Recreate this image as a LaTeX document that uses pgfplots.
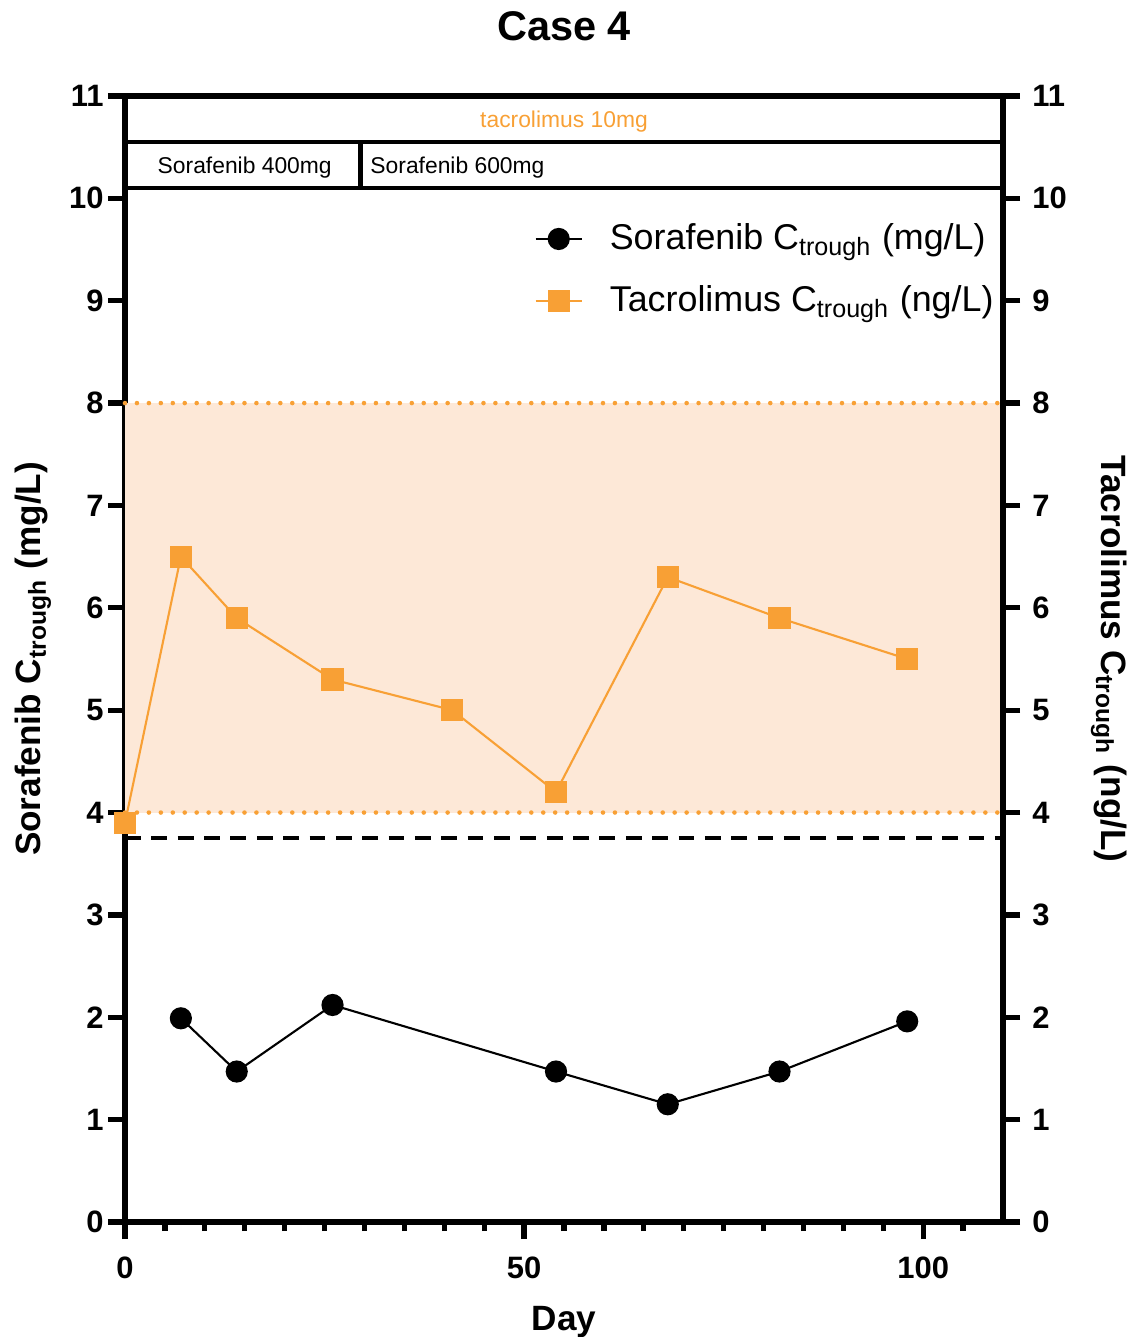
\documentclass[border=0pt]{standalone}
\usepackage{fontspec}
\setmainfont{Liberation Sans}
\usepackage{pgfplots}
\pgfplotsset{compat=1.18}
\definecolor{tacor}{HTML}{F8A035}
\definecolor{bandor}{HTML}{FDE8D7}

\pgfplotsset{
  base/.style={
    scale only axis, width=8.78cm, height=11.26cm,
    xmin=0, xmax=110, ymin=0, ymax=11,
    ytick={0,1,...,11},
    tick align=outside,
    major tick length=0.17cm,
    minor tick length=0.09cm,
    axis line style={line width=1.5pt},
    every tick/.style={line width=1.5pt, black},
    tick label style={font=\fontsize{8.8}{10}\selectfont\bfseries},
    /pgf/number format/assume math mode=true,
    label style={font=\fontsize{10}{12}\selectfont\bfseries},
  }
}

\begin{document}
\begin{tikzpicture}
\path[use as bounding box] (-1.25,-1.15) rectangle (10.02,12.22);

\begin{axis}[base,
  clip=false,
  xtick={0,50,100},
  minor xtick={5,10,15,20,25,30,35,40,45,55,60,65,70,75,80,85,90,95,105},
  xtick pos=left, ytick pos=left,
  yticklabel style={xshift=0.08cm},
  xticklabel style={yshift=-0.05cm},
  xlabel={Day},
  xlabel style={yshift=-0.04cm},
  ylabel={Sorafenib C\textsubscript{trough} (mg/L)},
  ylabel style={yshift=-0.06cm},
  title={Case 4},
  title style={font=\fontsize{11.8}{14}\selectfont\bfseries, yshift=0.22cm},
  legend style={at={(axis cs:111.1,9.9)}, anchor=north east, draw=none, fill=none,
    font=\fontsize{10.2}{12}\selectfont, row sep=0.17cm,
    /tikz/every odd column/.append style={column sep=0.2cm}},
  legend cell align=left,
  legend image code/.code={\draw[mark repeat=2,mark phase=2,#1] plot coordinates {(0cm,0cm)(0.23cm,0cm)(0.46cm,0cm)};},
]
% therapeutic range band
\addplot[draw=none, fill=bandor, forget plot] coordinates {(0,4) (110,4) (110,8) (0,8)} -- cycle;
\addplot[tacor, line width=1.3pt, line cap=round, dash pattern=on 0pt off 3.4pt, forget plot] coordinates {(0,8) (110,8)};
\addplot[tacor, line width=1.3pt, line cap=round, dash pattern=on 0pt off 3.4pt, forget plot] coordinates {(0,4) (110,4)};
\addplot[black, line width=1.1pt, dash pattern=on 4.5pt off 3pt, forget plot] coordinates {(0,3.75) (110,3.75)};

% dosing boxes
\draw[line width=1.2pt] (axis cs:0,10.547) -- (axis cs:110,10.547);
\draw[line width=1.2pt] (axis cs:0,10.098) -- (axis cs:110,10.098);
\draw[line width=1.2pt] (axis cs:29.5,10.098) -- (axis cs:29.5,10.547);
\node[text=tacor, font=\fontsize{6.5}{8}\selectfont] at (axis cs:55,10.75) {tacrolimus 10mg};
\node[font=\fontsize{6.5}{8}\selectfont] at (axis cs:15,10.3) {Sorafenib 400mg};
\node[font=\fontsize{6.5}{8}\selectfont, anchor=west] at (axis cs:29.2,10.3) {Sorafenib 600mg};

\addplot[black, line width=0.6pt, mark=*, mark size=2.85pt, mark options={solid}] coordinates {
  (7,1.99) (14,1.47) (26,2.12) (54,1.47) (68,1.15) (82,1.47) (98,1.96)
};
\addlegendentry{Sorafenib C\textsubscript{trough} (mg/L)}

\addplot[tacor, line width=0.6pt, mark=square*, mark size=2.85pt, mark options={solid, fill=tacor, draw=tacor}] coordinates {
  (0,3.9) (7,6.5) (14,5.9) (26,5.3) (41,5.0) (54,4.2) (68,6.3) (82,5.9) (98,5.5)
};
\addlegendentry{Tacrolimus C\textsubscript{trough} (ng/L)}
\end{axis}

\begin{axis}[base,
  hide x axis,
  axis y line*=right,
  ylabel={Tacrolimus C\textsubscript{trough} (ng/L)},
  ylabel style={rotate=180},
]
\end{axis}
\end{tikzpicture}
\end{document}
